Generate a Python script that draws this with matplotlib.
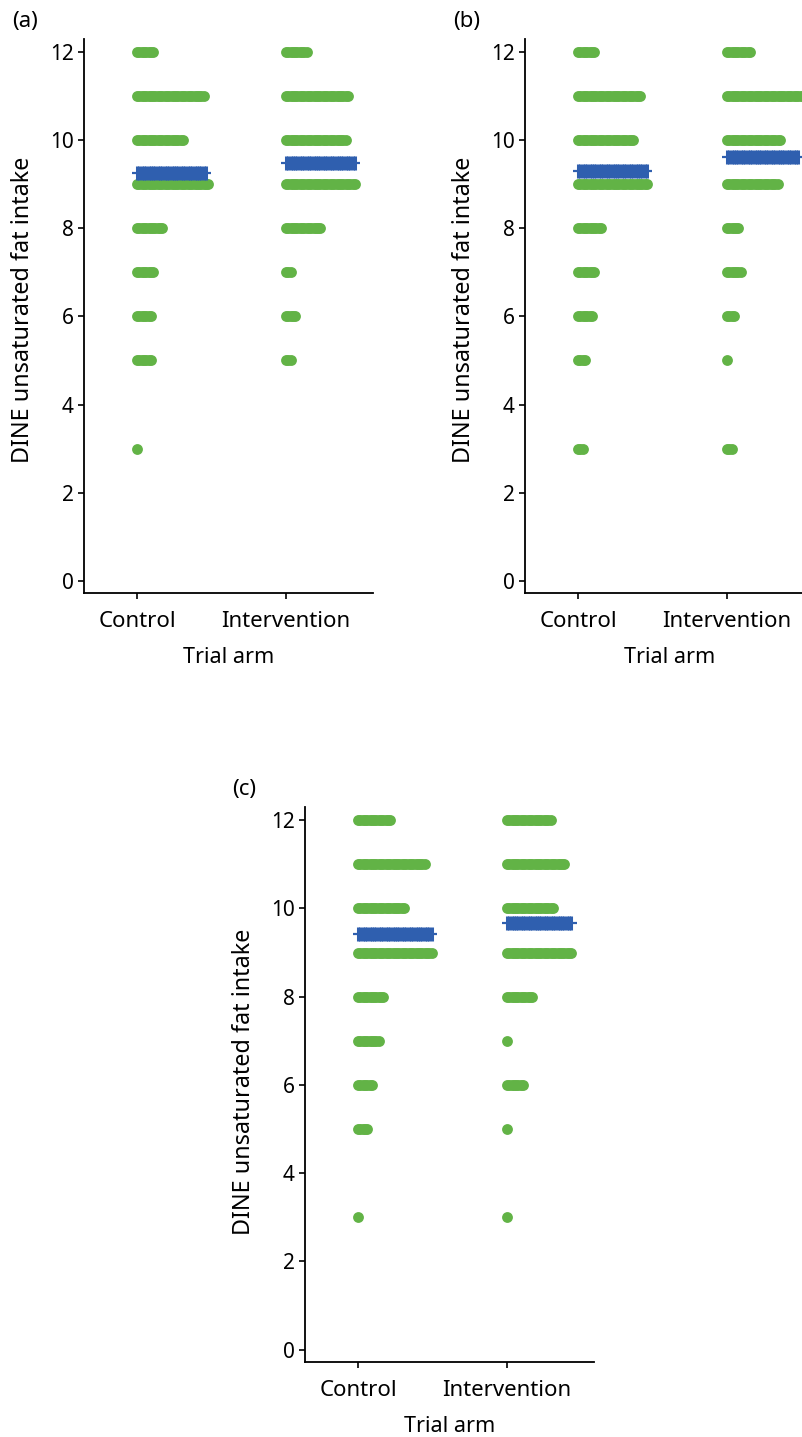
import matplotlib
matplotlib.use("Agg")
import matplotlib.pyplot as plt
import numpy as np

plt.rcParams['font.family'] = ['Noto Sans', 'DejaVu Sans']

# ---------------- data ----------------
categories = ["Control", "Intervention"]
levels = [12, 11, 10, 9, 8, 7, 6, 5, 4, 3]

# number of stacked dots per score level
a_control_counts = [8, 30, 21, 32, 12, 8, 7, 7, 0, 1]
a_interv_counts = [10, 28, 27, 31, 16, 3, 5, 3, 0, 0]
b_control_counts = [8, 28, 25, 31, 11, 8, 7, 4, 0, 3]
b_interv_counts = [11, 36, 24, 23, 6, 7, 4, 1, 0, 3]
c_control_counts = [15, 30, 21, 33, 12, 10, 7, 5, 0, 1]
c_interv_counts = [20, 26, 21, 29, 12, 1, 8, 1, 0, 1]

a_means = [9.26, 9.49]
b_means = [9.31, 9.61]
c_means = [9.43, 9.67]

a_mean_width = [31, 31]
b_mean_width = [31, 32]
c_mean_width = [33, 29]

panel_labels = ["(a)", "(b)", "(c)"]
y_ticks = [0, 2, 4, 6, 8, 10, 12]
x_title = "Trial arm"
y_title = "DINE unsaturated fat intake"

# ---------------- style ----------------
W, H = 803, 1437
DPI = 100
GREEN = "#62B346"
BLUE = "#2F5FAF"
STEP = 2.3 / 149.0   # horizontal spacing of stacked dots (data units)
DOT_MS = 7.8         # dot diameter in points

fig = plt.figure(figsize=(W / DPI, H / DPI), dpi=DPI)


def px_axes(left, right, top, bottom):
    return fig.add_axes([left / W, 1 - bottom / H, (right - left) / W, (bottom - top) / H])


def draw_panel(ax, counts_list, means, mean_widths):
    r = 5.4 / 149.0
    for i, counts in enumerate(counts_list):
        x0 = i + 1
        for lev, n in zip(levels, counts):
            if n == 0:
                continue
            xs = x0 + np.arange(n) * STEP
            ax.plot(xs, np.full(n, lev), linestyle="none", marker="o",
                    markersize=DOT_MS, color=GREEN, markeredgewidth=0, zorder=2)
        nb = mean_widths[i]
        xb = x0 + np.arange(nb) * STEP
        ax.plot([x0 - r, xb[-1] + r], [means[i], means[i]], color=BLUE, lw=1.6,
                solid_capstyle="butt", zorder=3)
        ax.plot(xb, np.full(nb, means[i]), linestyle="none", marker="|",
                markersize=9.5, markeredgewidth=2.2, color=BLUE, zorder=3)
    ax.set_xlim(0.644, 2.584)
    ax.set_ylim(-0.28, 12.3)
    ax.set_xticks([1, 2])
    ax.set_xticklabels(categories, fontsize=16)
    ax.set_yticks(y_ticks)
    ax.set_yticklabels([str(t) for t in y_ticks], fontsize=15)
    ax.spines["top"].set_visible(False)
    ax.spines["right"].set_visible(False)
    for s in ("left", "bottom"):
        ax.spines[s].set_linewidth(1.3)
    ax.tick_params(axis="both", length=4.5, width=1.2, colors="black")
    ax.tick_params(axis="x", pad=8.5)
    ax.tick_params(axis="y", pad=3)
    ax.set_xlabel(x_title, fontsize=15.5, labelpad=11)


ax_a = px_axes(84, 373, 39, 593)
draw_panel(ax_a, [a_control_counts, a_interv_counts], a_means, a_mean_width)
ax_b = px_axes(525, 814, 39, 593)
draw_panel(ax_b, [b_control_counts, b_interv_counts], b_means, b_mean_width)
ax_c = px_axes(305, 594, 807, 1362)
draw_panel(ax_c, [c_control_counts, c_interv_counts], c_means, c_mean_width)

# y titles
for xc, yc in [(23, 310), (464, 310), (244, 1082)]:
    fig.text(xc / W, 1 - yc / H, y_title, rotation=90, ha="center", va="center", fontsize=16.8)

# panel labels
for lab, (xl, yc) in zip(panel_labels, [(12, 21), (453, 21), (232, 790)]):
    fig.text(xl / W, 1 - yc / H, lab, ha="left", va="center", fontsize=16)

fig.savefig("out.png", dpi=DPI)
